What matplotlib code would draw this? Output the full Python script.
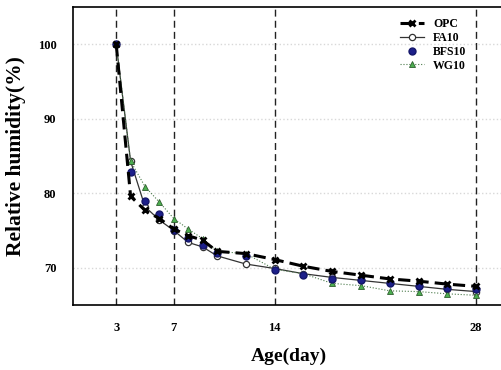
import matplotlib
matplotlib.use("Agg")
import matplotlib.pyplot as plt

# ── data ───────────────────────────────────────────────────────────
age = [3, 4, 5, 6, 7, 8, 9, 10, 12, 14, 16, 18, 20, 22, 24, 26, 28]

opc  = [100, 79.6, 77.7, 76.6, 75.2, 74.3, 73.7, 72.2, 71.9, 71.1, 70.2, 69.5, 69.0, 68.5, 68.2, 67.8, 67.5]
fa10 = [100, 84.3, 78.2, 76.4, 75.0, 73.4, 72.8, 71.6, 70.5, 69.9, 69.2, 68.7, 68.3, 67.9, 67.5, 67.1, 66.8]
bfs10 = [100, 82.9, 78.9, 77.2, 75.1, 74.0, 73.1, 72.0, 71.6, 69.7, 69.0, 68.5, 68.3, 67.9, 67.6, 67.3, 67.2]
wg10 = [100, 84.3, 80.9, 78.8, 76.6, 75.2, 73.9, 72.2, 71.9, 69.8, 69.2, 67.9, 67.6, 66.9, 66.8, 66.5, 66.3]

xticks = [3, 7, 14, 28]
yticks = [70, 80, 90, 100]

SERIF = ["Liberation Serif", "DejaVu Serif"]
plt.rcParams["font.family"] = SERIF
plt.rcParams["font.weight"] = "bold"

fig = plt.figure(figsize=(5.02, 3.70), dpi=100)
ax = fig.add_axes([73 / 502, 1 - 305 / 370, 432 / 502, 298 / 370])

# gridlines + vertical age markers
for y in yticks:
    ax.axhline(y, color="#d8d8d8", linestyle=":", linewidth=1.0, zorder=0)
for x in xticks:
    ax.axvline(x, color="#222222", linestyle=(0, (5, 3)), linewidth=1.0, zorder=1)

ax.plot(age, fa10, color="#333333", linewidth=0.9, marker="o", markersize=4.5,
        markerfacecolor="white", markeredgecolor="#333333", markeredgewidth=0.9,
        label="FA10", zorder=3)
ax.plot(age, wg10, color="#4a7a4a", linewidth=0.8, linestyle=":", marker="^",
        markersize=5, markerfacecolor="#4caf50", markeredgecolor="#2e5e2e",
        markeredgewidth=0.6, label="WG10", zorder=4)
ax.plot(age, bfs10, linestyle="none", marker="o", markersize=5,
        markerfacecolor="#1c1f8a", markeredgecolor="#14166a",
        label="BFS10", zorder=5)
ax.plot(age, opc, color="black", linewidth=2.2, linestyle=(0, (4, 2)),
        marker="x", markersize=5, markeredgewidth=2.0, label="OPC", zorder=6)

ax.set_xlim(0, 30)
ax.set_ylim(65, 105)
ax.set_xticks(xticks)
ax.set_yticks(yticks)
ax.tick_params(length=0, labelsize=9, pad=12)
for lab in ax.get_xticklabels() + ax.get_yticklabels():
    lab.set_fontweight("bold")

for s in ["left", "bottom", "top"]:
    ax.spines[s].set_linewidth(1.2)
ax.spines["right"].set_visible(False)

ax.set_xlabel("Age(day)", fontsize=14, fontweight="bold", labelpad=10)
ax.set_ylabel("Relative humidity(%)", fontsize=15.5, fontweight="bold", labelpad=8)

handles, labels = ax.get_legend_handles_labels()
order = [labels.index(n) for n in ["OPC", "FA10", "BFS10", "WG10"]]
ax.legend([handles[i] for i in order], [labels[i] for i in order],
          loc="upper right", bbox_to_anchor=(0.93, 0.99), frameon=False,
          handlelength=2.0, labelspacing=0.15, borderpad=0.2,
          prop={"family": SERIF, "weight": "bold", "size": 8.5})

fig.savefig("out.png", dpi=100)
